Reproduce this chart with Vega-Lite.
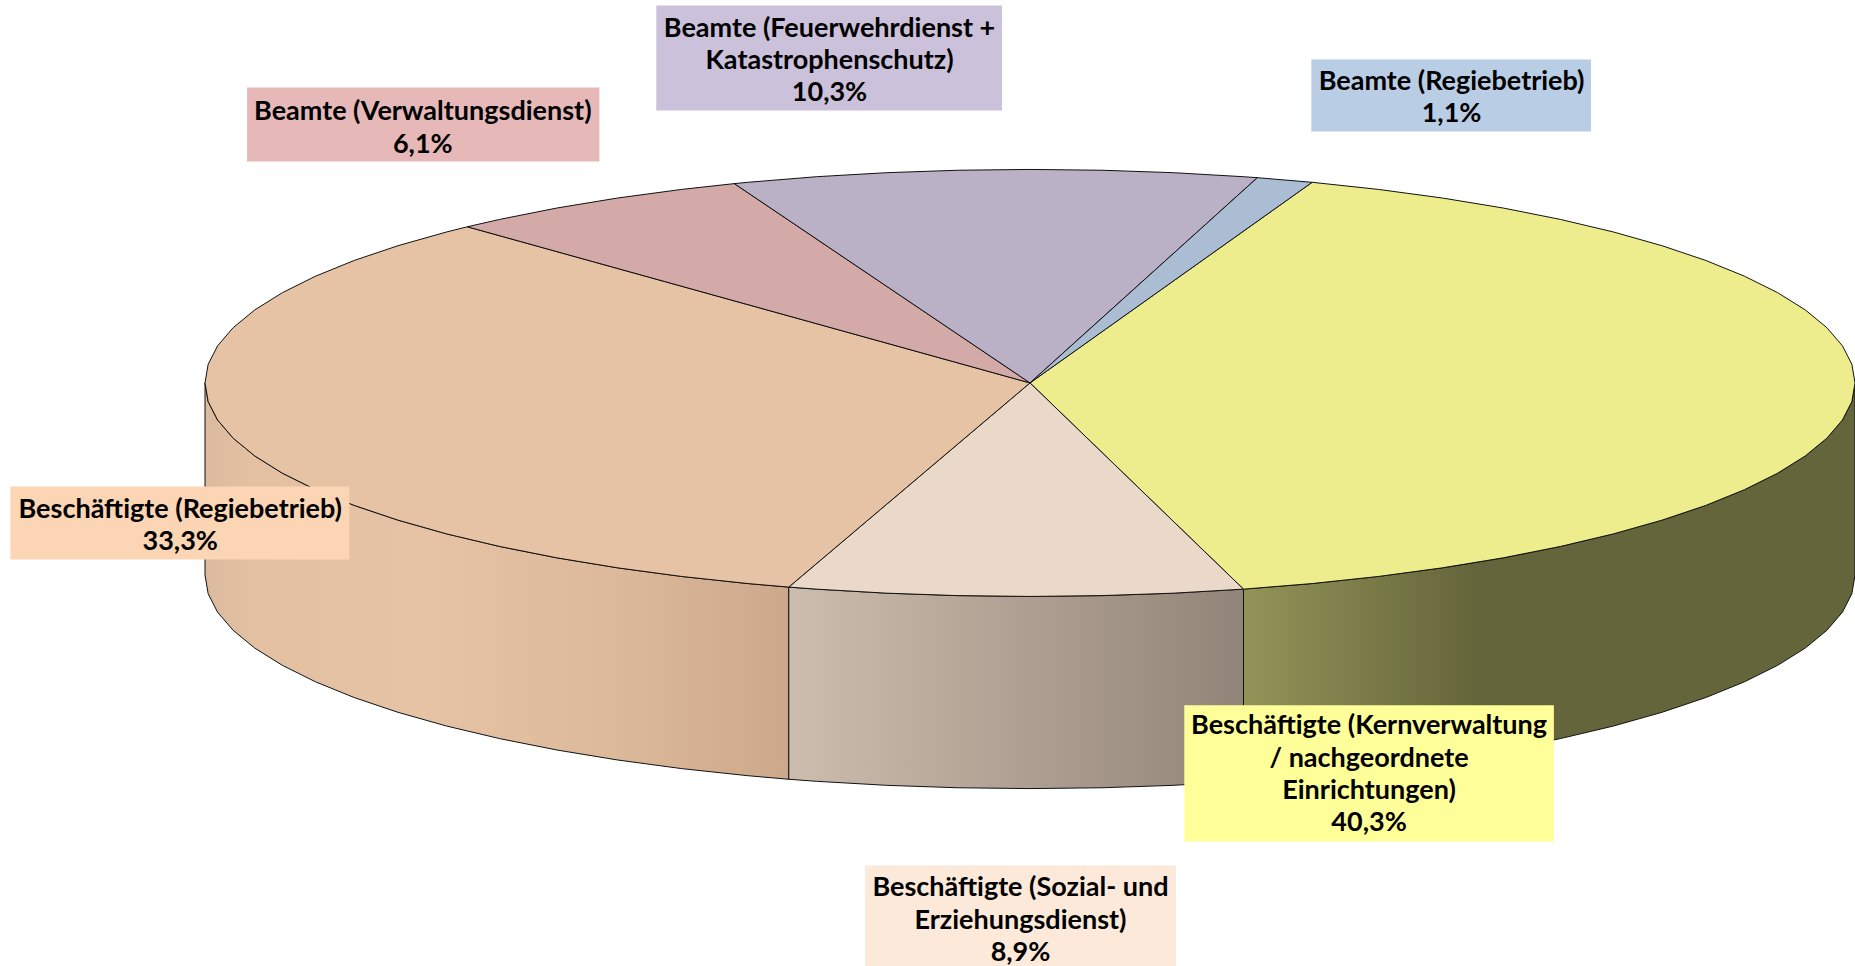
{
"$schema":"https://vega.github.io/schema/vega-lite/v6.json",
"width":1855,"height":966,"padding":0,
"autosize":{"type":"none"},
"background":"white",
"view":{"stroke":null},
"datasets":{
"walls":[
{"w":"peach","n":1,"x":-100,"y":0},{"w":"peach","n":2,"x":-99.62,"y":-8.72},{"w":"peach","n":3,"x":-98.48,"y":-17.36},{"w":"peach","n":4,"x":-96.59,"y":-25.88},{"w":"peach","n":5,"x":-93.97,"y":-34.2},{"w":"peach","n":6,"x":-90.63,"y":-42.26},{"w":"peach","n":7,"x":-86.6,"y":-50},{"w":"peach","n":8,"x":-81.92,"y":-57.36},{"w":"peach","n":9,"x":-76.6,"y":-64.28},{"w":"peach","n":10,"x":-70.71,"y":-70.71},{"w":"peach","n":11,"x":-64.28,"y":-76.6},{"w":"peach","n":12,"x":-57.36,"y":-81.92},{"w":"peach","n":13,"x":-50,"y":-86.6},{"w":"peach","n":14,"x":-42.26,"y":-90.63},{"w":"peach","n":15,"x":-34.2,"y":-93.97},{"w":"peach","n":16,"x":-29.24,"y":-95.63},
{"w":"peach","n":17,"x":-29.24,"y":-185.63},{"w":"peach","n":18,"x":-34.2,"y":-183.97},{"w":"peach","n":19,"x":-42.26,"y":-180.63},{"w":"peach","n":20,"x":-50,"y":-176.6},{"w":"peach","n":21,"x":-57.36,"y":-171.92},{"w":"peach","n":22,"x":-64.28,"y":-166.6},{"w":"peach","n":23,"x":-70.71,"y":-160.71},{"w":"peach","n":24,"x":-76.6,"y":-154.28},{"w":"peach","n":25,"x":-81.92,"y":-147.36},{"w":"peach","n":26,"x":-86.6,"y":-140},{"w":"peach","n":27,"x":-90.63,"y":-132.26},{"w":"peach","n":28,"x":-93.97,"y":-124.2},{"w":"peach","n":29,"x":-96.59,"y":-115.88},{"w":"peach","n":30,"x":-98.48,"y":-107.36},{"w":"peach","n":31,"x":-99.62,"y":-98.72},{"w":"peach","n":32,"x":-100,"y":-90},{"w":"peach","n":33,"x":-100,"y":0},
{"w":"beige","n":1,"x":-29.24,"y":-95.63},{"w":"beige","n":2,"x":-25.88,"y":-96.59},{"w":"beige","n":3,"x":-17.36,"y":-98.48},{"w":"beige","n":4,"x":-8.72,"y":-99.62},{"w":"beige","n":5,"x":0,"y":-100},{"w":"beige","n":6,"x":8.72,"y":-99.62},{"w":"beige","n":7,"x":17.36,"y":-98.48},{"w":"beige","n":8,"x":25.88,"y":-96.59},
{"w":"beige","n":9,"x":25.88,"y":-186.59},{"w":"beige","n":10,"x":17.36,"y":-188.48},{"w":"beige","n":11,"x":8.72,"y":-189.62},{"w":"beige","n":12,"x":0,"y":-190},{"w":"beige","n":13,"x":-8.72,"y":-189.62},{"w":"beige","n":14,"x":-17.36,"y":-188.48},{"w":"beige","n":15,"x":-25.88,"y":-186.59},{"w":"beige","n":16,"x":-29.24,"y":-185.63},{"w":"beige","n":17,"x":-29.24,"y":-95.63},
{"w":"yellow","n":1,"x":25.88,"y":-96.59},{"w":"yellow","n":2,"x":34.2,"y":-93.97},{"w":"yellow","n":3,"x":42.26,"y":-90.63},{"w":"yellow","n":4,"x":50,"y":-86.6},{"w":"yellow","n":5,"x":57.36,"y":-81.92},{"w":"yellow","n":6,"x":64.28,"y":-76.6},{"w":"yellow","n":7,"x":70.71,"y":-70.71},{"w":"yellow","n":8,"x":76.6,"y":-64.28},{"w":"yellow","n":9,"x":81.92,"y":-57.36},{"w":"yellow","n":10,"x":86.6,"y":-50},{"w":"yellow","n":11,"x":90.63,"y":-42.26},{"w":"yellow","n":12,"x":93.97,"y":-34.2},{"w":"yellow","n":13,"x":96.59,"y":-25.88},{"w":"yellow","n":14,"x":98.48,"y":-17.36},{"w":"yellow","n":15,"x":99.62,"y":-8.72},{"w":"yellow","n":16,"x":100,"y":0},
{"w":"yellow","n":17,"x":100,"y":-90},{"w":"yellow","n":18,"x":99.62,"y":-98.72},{"w":"yellow","n":19,"x":98.48,"y":-107.36},{"w":"yellow","n":20,"x":96.59,"y":-115.88},{"w":"yellow","n":21,"x":93.97,"y":-124.2},{"w":"yellow","n":22,"x":90.63,"y":-132.26},{"w":"yellow","n":23,"x":86.6,"y":-140},{"w":"yellow","n":24,"x":81.92,"y":-147.36},{"w":"yellow","n":25,"x":76.6,"y":-154.28},{"w":"yellow","n":26,"x":70.71,"y":-160.71},{"w":"yellow","n":27,"x":64.28,"y":-166.6},{"w":"yellow","n":28,"x":57.36,"y":-171.92},{"w":"yellow","n":29,"x":50,"y":-176.6},{"w":"yellow","n":30,"x":42.26,"y":-180.63},{"w":"yellow","n":31,"x":34.2,"y":-183.97},{"w":"yellow","n":32,"x":25.88,"y":-186.59},{"w":"yellow","n":33,"x":25.88,"y":-96.59}
],
"slices":[
{"s":"KV","n":0,"x":0,"y":0},{"s":"KV","n":1,"x":34.2,"y":93.97},{"s":"KV","n":2,"x":42.26,"y":90.63},{"s":"KV","n":3,"x":50,"y":86.6},{"s":"KV","n":4,"x":57.36,"y":81.92},{"s":"KV","n":5,"x":64.28,"y":76.6},{"s":"KV","n":6,"x":70.71,"y":70.71},{"s":"KV","n":7,"x":76.6,"y":64.28},{"s":"KV","n":8,"x":81.92,"y":57.36},{"s":"KV","n":9,"x":86.6,"y":50},{"s":"KV","n":10,"x":90.63,"y":42.26},{"s":"KV","n":11,"x":93.97,"y":34.2},{"s":"KV","n":12,"x":96.59,"y":25.88},{"s":"KV","n":13,"x":98.48,"y":17.36},{"s":"KV","n":14,"x":99.62,"y":8.72},{"s":"KV","n":15,"x":100,"y":0},{"s":"KV","n":16,"x":99.62,"y":-8.72},{"s":"KV","n":17,"x":98.48,"y":-17.36},{"s":"KV","n":18,"x":96.59,"y":-25.88},{"s":"KV","n":19,"x":93.97,"y":-34.2},{"s":"KV","n":20,"x":90.63,"y":-42.26},{"s":"KV","n":21,"x":86.6,"y":-50},{"s":"KV","n":22,"x":81.92,"y":-57.36},{"s":"KV","n":23,"x":76.6,"y":-64.28},{"s":"KV","n":24,"x":70.71,"y":-70.71},{"s":"KV","n":25,"x":64.28,"y":-76.6},{"s":"KV","n":26,"x":57.36,"y":-81.92},{"s":"KV","n":27,"x":50,"y":-86.6},{"s":"KV","n":28,"x":42.26,"y":-90.63},{"s":"KV","n":29,"x":34.2,"y":-93.97},{"s":"KV","n":30,"x":25.88,"y":-96.59},{"s":"KV","n":31,"x":0,"y":0},
{"s":"SE","n":0,"x":0,"y":0},{"s":"SE","n":1,"x":25.88,"y":-96.59},{"s":"SE","n":2,"x":17.36,"y":-98.48},{"s":"SE","n":3,"x":8.72,"y":-99.62},{"s":"SE","n":4,"x":0,"y":-100},{"s":"SE","n":5,"x":-8.72,"y":-99.62},{"s":"SE","n":6,"x":-17.36,"y":-98.48},{"s":"SE","n":7,"x":-25.88,"y":-96.59},{"s":"SE","n":8,"x":-29.24,"y":-95.63},{"s":"SE","n":9,"x":0,"y":0},
{"s":"BR","n":0,"x":0,"y":0},{"s":"BR","n":1,"x":-29.24,"y":-95.63},{"s":"BR","n":2,"x":-34.2,"y":-93.97},{"s":"BR","n":3,"x":-42.26,"y":-90.63},{"s":"BR","n":4,"x":-50,"y":-86.6},{"s":"BR","n":5,"x":-57.36,"y":-81.92},{"s":"BR","n":6,"x":-64.28,"y":-76.6},{"s":"BR","n":7,"x":-70.71,"y":-70.71},{"s":"BR","n":8,"x":-76.6,"y":-64.28},{"s":"BR","n":9,"x":-81.92,"y":-57.36},{"s":"BR","n":10,"x":-86.6,"y":-50},{"s":"BR","n":11,"x":-90.63,"y":-42.26},{"s":"BR","n":12,"x":-93.97,"y":-34.2},{"s":"BR","n":13,"x":-96.59,"y":-25.88},{"s":"BR","n":14,"x":-98.48,"y":-17.36},{"s":"BR","n":15,"x":-99.62,"y":-8.72},{"s":"BR","n":16,"x":-100,"y":0},{"s":"BR","n":17,"x":-99.62,"y":8.72},{"s":"BR","n":18,"x":-98.48,"y":17.36},{"s":"BR","n":19,"x":-96.59,"y":25.88},{"s":"BR","n":20,"x":-93.97,"y":34.2},{"s":"BR","n":21,"x":-90.63,"y":42.26},{"s":"BR","n":22,"x":-86.6,"y":50},{"s":"BR","n":23,"x":-81.92,"y":57.36},{"s":"BR","n":24,"x":-76.6,"y":64.28},{"s":"BR","n":25,"x":-70.71,"y":70.71},{"s":"BR","n":26,"x":-68.2,"y":73.14},{"s":"BR","n":27,"x":0,"y":0},
{"s":"BV","n":0,"x":0,"y":0},{"s":"BV","n":1,"x":-68.2,"y":73.14},{"s":"BV","n":2,"x":-64.28,"y":76.6},{"s":"BV","n":3,"x":-57.36,"y":81.92},{"s":"BV","n":4,"x":-50,"y":86.6},{"s":"BV","n":5,"x":-42.26,"y":90.63},{"s":"BV","n":6,"x":-35.84,"y":93.36},{"s":"BV","n":7,"x":0,"y":0},
{"s":"BF","n":0,"x":0,"y":0},{"s":"BF","n":1,"x":-35.84,"y":93.36},{"s":"BF","n":2,"x":-34.2,"y":93.97},{"s":"BF","n":3,"x":-25.88,"y":96.59},{"s":"BF","n":4,"x":-17.36,"y":98.48},{"s":"BF","n":5,"x":-8.72,"y":99.62},{"s":"BF","n":6,"x":0,"y":100},{"s":"BF","n":7,"x":8.72,"y":99.62},{"s":"BF","n":8,"x":17.36,"y":98.48},{"s":"BF","n":9,"x":25.88,"y":96.59},{"s":"BF","n":10,"x":27.56,"y":96.13},{"s":"BF","n":11,"x":0,"y":0},
{"s":"BG","n":0,"x":0,"y":0},{"s":"BG","n":1,"x":27.56,"y":96.13},{"s":"BG","n":2,"x":34.2,"y":93.97},{"s":"BG","n":3,"x":0,"y":0}
],
"labels":[
{"s":"KV","label":"Beschäftigte (Kernverwaltung\n/ nachgeordnete\nEinrichtungen)\n40,3%","x":41.1,"y":-160.9,"x1":18.7,"x2":63.5,"y1":-151,"y2":-214.8},
{"s":"SE","label":"Beschäftigte (Sozial- und\nErziehungsdienst)\n8,9%","x":-1.15,"y":-236.8,"x1":-20,"x2":17.7,"y1":-226,"y2":-273.8},
{"s":"BR","label":"Beschäftigte (Regiebetrieb)\n33,3%","x":-103,"y":-59.5,"x1":-123.6,"x2":-82.5,"y1":-48.5,"y2":-82.7},
{"s":"BV","label":"Beamte (Verwaltungsdienst)\n6,1%","x":-73.6,"y":126.7,"x1":-94.9,"x2":-52.2,"y1":138.4,"y2":103.7},
{"s":"BF","label":"Beamte (Feuerwehrdienst +\nKatastrophenschutz)\n10,3%","x":-24.3,"y":166,"x1":-45.3,"x2":-3.4,"y1":176.8,"y2":127.6},
{"s":"BG","label":"Beamte (Regiebetrieb)\n1,1%","x":51.1,"y":141,"x1":34.1,"x2":68,"y1":151.5,"y2":117.8}
]
},
"layer":[
{"data":{"name":"walls"},"transform":[{"filter":"datum.w==='peach'"}],
 "mark":{"type":"line","stroke":"#111111","strokeWidth":1,"fill":{"gradient":"linear","x1":0,"y1":0,"x2":1,"y2":0,"stops":[{"offset":0,"color":"#DCBA9D"},{"offset":0.08,"color":"#E3C0A2"},{"offset":0.38,"color":"#E6C3A4"},{"offset":0.7,"color":"#DDB99B"},{"offset":1,"color":"#CDA88B"}]}},
 "encoding":{"x":{"field":"x","type":"quantitative","scale":{"domain":[-124.85,100],"nice":false,"zero":false},"axis":null},"y":{"field":"y","type":"quantitative","scale":{"domain":[-273.1,179.36],"nice":false,"zero":false},"axis":null},"order":{"field":"n"}}},
{"data":{"name":"walls"},"transform":[{"filter":"datum.w==='beige'"}],
 "mark":{"type":"line","stroke":"#111111","strokeWidth":1,"fill":{"gradient":"linear","x1":0,"y1":0,"x2":1,"y2":0,"stops":[{"offset":0,"color":"#CDBDAE"},{"offset":1,"color":"#928478"}]}},
 "encoding":{"x":{"field":"x","type":"quantitative"},"y":{"field":"y","type":"quantitative"},"order":{"field":"n"}}},
{"data":{"name":"walls"},"transform":[{"filter":"datum.w==='yellow'"}],
 "mark":{"type":"line","stroke":"#111111","strokeWidth":1,"fill":{"gradient":"linear","x1":0,"y1":0,"x2":1,"y2":0,"stops":[{"offset":0,"color":"#929458"},{"offset":0.38,"color":"#65653B"},{"offset":1,"color":"#65653B"}]}},
 "encoding":{"x":{"field":"x","type":"quantitative"},"y":{"field":"y","type":"quantitative"},"order":{"field":"n"}}},
{"data":{"name":"slices"},
 "mark":{"type":"line","stroke":"#111111","strokeWidth":1,"fill":"#ccc","strokeJoin":"round"},
 "encoding":{"x":{"field":"x","type":"quantitative"},"y":{"field":"y","type":"quantitative"},"order":{"field":"n"},"detail":{"field":"s"},
  "fill":{"field":"s","type":"nominal","legend":null,"scale":{"domain":["KV","SE","BR","BV","BF","BG"],"range":["#EDED8D","#EAD9C9","#E6C3A4","#D4AAA9","#BBB1C6","#ABBDD3"]}}}},
{"data":{"name":"labels"},
 "mark":{"type":"rect"},
 "encoding":{"x":{"field":"x1","type":"quantitative"},"x2":{"field":"x2"},"y":{"field":"y1","type":"quantitative"},"y2":{"field":"y2"},
  "color":{"field":"s","type":"nominal","legend":null,"scale":{"domain":["KV","SE","BR","BV","BF","BG"],"range":["#FFFF99","#FDE9D9","#FCD5B5","#E6B9B8","#CCC1DA","#B9CDE5"]}}}},
{"data":{"name":"labels"},
 "mark":{"type":"text","lineBreak":"\n","lineHeight":32.3,"font":"Lato","fontWeight":"bold","fontSize":27,"color":"#000","align":"center","baseline":"middle"},
 "encoding":{"x":{"field":"x","type":"quantitative"},"y":{"field":"y","type":"quantitative"},"text":{"field":"label","type":"nominal"}}}
]
}
